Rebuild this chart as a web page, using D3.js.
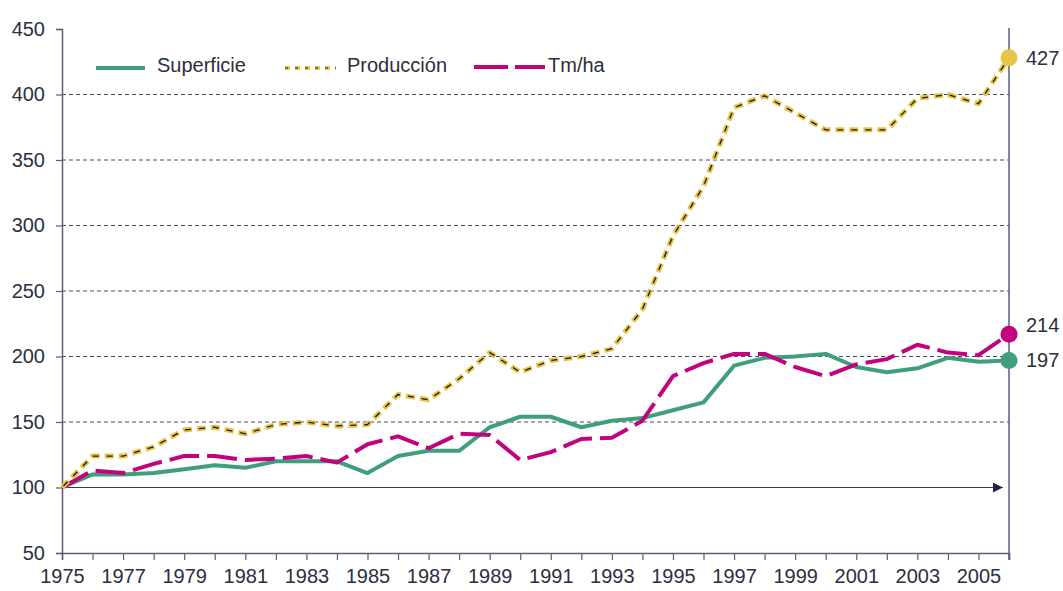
<!DOCTYPE html>
<html>
<head>
<meta charset="utf-8">
<script src="https://cdn.jsdelivr.net/npm/d3@7"></script>
<style>
  body { margin: 0; background: #fff; }
  svg text { font-family: "Liberation Sans", Arial, sans-serif; fill: #2e2e40; }
</style>
</head>
<body>
<div id="chart"></div>
<script>
// data (index 1975 = 100)
var years = d3.range(1975, 2007);
var superficie = [100, 110, 110, 111, 114, 117, 115, 120, 120, 120, 111, 124, 128, 128, 146, 154,
                  154, 146, 151, 153, 159, 165, 193, 199, 200, 202, 192, 188, 191, 199, 196, 197];
var produccion = [100, 124, 124, 131, 144, 146, 141, 148, 150, 147, 148, 171, 167, 183, 203, 188,
                  197, 200, 206, 236, 292, 330, 390, 399, 386, 373, 373, 373, 397, 400, 393, 428];
var tmha = [100, 113, 111, 118, 124, 124, 121, 122, 124, 119, 133, 139, 130, 141, 140, 121,
            127, 137, 138, 151, 185, 195, 202, 202, 192, 185, 194, 198, 209, 203, 201, 217];
var endLabels = ["197", "427", "214"];
var seriesNames = ["Superficie", "Producción", "Tm/ha"];
var yTicks = [50, 100, 150, 200, 250, 300, 350, 400, 450];
var gridTicks = [150, 200, 250, 300, 350, 400];

var width = 1063, height = 591;
var svg = d3.select("#chart").append("svg")
    .attr("width", width)
    .attr("height", height);

var x = d3.scaleLinear().domain([1975, 2006]).range([62, 1009]);
var y = d3.scaleLinear().domain([50, 450]).range([553, 29]);

var axisColor = "#5c5c7a";

// dashed gridlines
svg.selectAll(".grid").data(gridTicks).enter().append("line")
    .attr("x1", x(1975)).attr("x2", x(2006))
    .attr("y1", d => y(d)).attr("y2", d => y(d))
    .style("stroke", "#4a4a66").style("stroke-width", 1)
    .style("stroke-dasharray", "4,3");

// arrow on base 100 line
svg.append("defs").append("marker")
    .attr("id", "arrow")
    .attr("viewBox", "0 0 10 10")
    .attr("refX", 10).attr("refY", 5)
    .attr("markerWidth", 10).attr("markerHeight", 10)
    .attr("markerUnits", "userSpaceOnUse")
    .attr("orient", "auto")
  .append("path")
    .attr("d", "M0,0 L10,5 L0,10 z")
    .style("fill", "#24243c");

svg.append("line")
    .attr("x1", x(1975)).attr("x2", x(2005.8))
    .attr("y1", y(100)).attr("y2", y(100))
    .style("stroke", "#3a3a55").style("stroke-width", 1.2)
    .attr("marker-end", "url(#arrow)");

// left axis
var yAxis = d3.axisLeft(y).tickValues(yTicks).tickSize(6).tickPadding(11);
var gy = svg.append("g").attr("transform", "translate(" + x(1975) + ",0)").call(yAxis);
gy.selectAll("text").style("font-size", "20px");

// bottom axis
var xAxis = d3.axisBottom(x).tickValues(years).tickSize(7).tickPadding(9)
    .tickFormat(d => (d % 2 === 1 ? d : ""));
var gx = svg.append("g").attr("transform", "translate(0," + y(50) + ")").call(xAxis);
gx.selectAll("text").style("font-size", "20px");

[gy, gx].forEach(function(g){
  g.select(".domain").style("stroke", axisColor).style("stroke-width", 1.5);
  g.selectAll(".tick line").style("stroke", axisColor).style("stroke-width", 1.2);
});

// right vertical line
svg.append("line")
    .attr("x1", x(2006)).attr("x2", x(2006))
    .attr("y1", y(450) - 1).attr("y2", y(50) + 7)
    .style("stroke", axisColor).style("stroke-width", 1.5);

var line = function(vals){
  return d3.line()
      .x((d, i) => x(years[i]))
      .y(d => y(d))(vals);
};

var green = "#3f9f7c", yellow = "#e6c446", magenta = "#c2037e";

// series
svg.append("path").attr("d", line(superficie))
    .style("fill", "none").style("stroke", green).style("stroke-width", 4)
    .style("stroke-linejoin", "round");

svg.append("path").attr("d", line(tmha))
    .style("fill", "none").style("stroke", magenta).style("stroke-width", 4)
    .style("stroke-linejoin", "round")
    .style("stroke-dasharray", "30,8");

svg.append("path").attr("d", line(produccion))
    .style("fill", "none").style("stroke", yellow).style("stroke-width", 5)
    .style("stroke-linejoin", "round")
    .style("stroke-dasharray", "9,5");
svg.append("path").attr("d", line(produccion))
    .style("fill", "none").style("stroke", "#1a1a1a").style("stroke-width", 1.3)
    .style("stroke-dasharray", "6,8").style("stroke-dashoffset", -2);

// end dots + labels
var last = years.length - 1;
var ends = [
  {v: superficie[last], c: green, label: endLabels[0]},
  {v: produccion[last], c: yellow, label: endLabels[1]},
  {v: tmha[last], c: magenta, label: endLabels[2]}
];
svg.selectAll(".dot").data(ends).enter().append("circle")
    .attr("cx", x(2006)).attr("cy", d => y(d.v)).attr("r", 8.5)
    .style("fill", d => d.c);
svg.selectAll(".endlab").data(ends).enter().append("text")
    .attr("x", 1026).attr("y", (d, i) => y(d.v) + (i === 2 ? -9 : 0))
    .attr("dy", "0.35em")
    .style("font-size", "20px")
    .text(d => d.label);

// legend
var legend = svg.append("g");
legend.append("line").attr("x1", 96).attr("x2", 145).attr("y1", 68).attr("y2", 68)
    .style("stroke", green).style("stroke-width", 4);
legend.append("line").attr("x1", 285).attr("x2", 336).attr("y1", 68).attr("y2", 68)
    .style("stroke", yellow).style("stroke-width", 4).style("stroke-dasharray", "5,5");
legend.append("line").attr("x1", 285).attr("x2", 336).attr("y1", 68).attr("y2", 68)
    .style("stroke", "#1a1a1a").style("stroke-width", 1).style("stroke-dasharray", "3,7");
legend.append("line").attr("x1", 474).attr("x2", 545).attr("y1", 67).attr("y2", 67)
    .style("stroke", magenta).style("stroke-width", 4).style("stroke-dasharray", "34,7");
legend.selectAll(".lt").data(seriesNames).enter().append("text")
    .attr("x", (d, i) => [157, 347, 548][i]).attr("y", 65).attr("dy", "0.35em")
    .style("font-size", "20px")
    .text(d => d);
</script>
</body>
</html>
